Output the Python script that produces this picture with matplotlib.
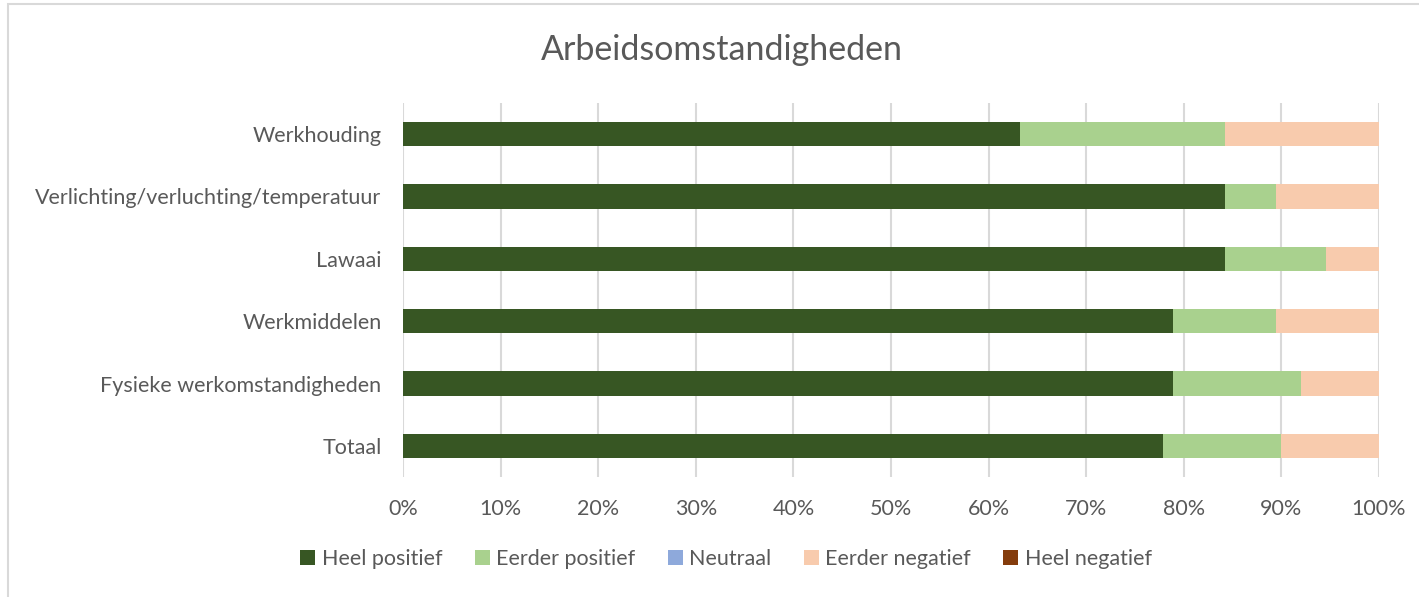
import numpy as np
import matplotlib
matplotlib.use("Agg")
from matplotlib import pyplot as plt
from matplotlib.patches import Rectangle
from matplotlib.ticker import FuncFormatter

# categorieen (van boven naar beneden)
categorieen = ["Werkhouding", "Verlichting/verluchting/temperatuur", "Lawaai",
               "Werkmiddelen", "Fysieke werkomstandigheden", "Totaal"]
heel_positief = [63.2, 84.2, 84.2, 78.9, 78.9, 77.9]
eerder_positief = [21.0, 5.2, 10.4, 10.5, 13.1, 12.1]
neutraal = [0, 0, 0, 0, 0, 0]
eerder_negatief = [15.8, 10.6, 5.4, 10.6, 8.0, 10.0]
heel_negatief = [0, 0, 0, 0, 0, 0]

reeksen = ["Heel positief", "Eerder positief", "Neutraal", "Eerder negatief", "Heel negatief"]
kleuren = ["#375623", "#A9D18E", "#8EA9DB", "#F8CBAD", "#843C0C"]
grijs = "#595959"

plt.rcParams['font.family'] = ['Lato', 'DejaVu Sans']

fig = plt.figure(figsize=(14.19, 5.97), dpi=100)
ax = fig.add_axes([403/1419, 1-477/597, 976/1419, 374/597])

# rand rond de grafiek
fig.patches.append(Rectangle((8/1419, -0.1), 1.2, 1 - 4/597 + 0.1, transform=fig.transFigure,
                             fill=False, edgecolor="#D9D9D9", linewidth=1.5))

y = np.arange(len(categorieen))[::-1]
links = np.zeros(len(categorieen))
for naam, waarden, kleur in zip(reeksen, [heel_positief, eerder_positief, neutraal,
                                          eerder_negatief, heel_negatief], kleuren):
    ax.barh(y, waarden, left=links, height=0.39, color=kleur, label=naam, zorder=3)
    links = links + np.array(waarden)

ax.set_xlim(0, 100)
ax.set_ylim(-0.5, 5.5)
ax.set_xticks(np.arange(0, 101, 10))
ax.xaxis.set_major_formatter(FuncFormatter(lambda v, p: "%d%%" % v))
ax.set_yticks(y)
ax.set_yticklabels(categorieen)
ax.tick_params(length=0, labelsize=15.5, colors=grijs)
ax.tick_params(axis="x", pad=16)
ax.tick_params(axis="y", pad=15.5)
ax.grid(axis="x", color="#D9D9D9", linewidth=1.5, zorder=0)
for s in ax.spines.values():
    s.set_visible(False)

fig.text(722/1419, 1-50/597, "Arbeidsomstandigheden", ha="center", va="center",
         fontsize=24.5, color=grijs)

handles, labels = ax.get_legend_handles_labels()
fig.legend(handles, labels, loc="center", bbox_to_anchor=(726/1419, 1-559/597), ncol=5,
           frameon=False, fontsize=15.5, labelcolor=grijs, handlelength=0.7, handleheight=0.7,
           handletextpad=0.3, columnspacing=1.5)

fig.savefig("out.png", dpi=100)
